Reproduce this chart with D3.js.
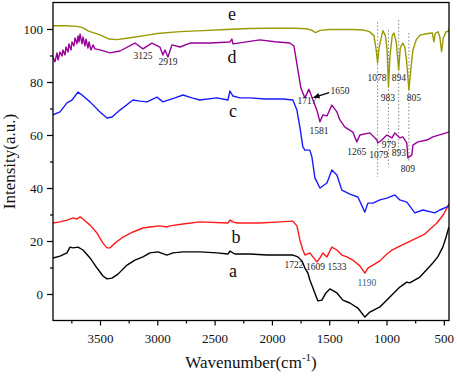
<!DOCTYPE html>
<html>
<head>
<meta charset="utf-8">
<script src="https://cdn.jsdelivr.net/npm/d3@7"></script>
<style>
  body { margin: 0; background: #fff; }
  svg text { font-family: "Liberation Serif", "Times New Roman", "DejaVu Serif", serif !important; }
</style>
</head>
<body>
<svg id="chart" width="457" height="376"></svg>
<script>
// spectra: [wavenumber, intensity]
var curveA = [[3910,13.6],[3849,14.3],[3788,15.5],[3762,17.7],[3735,17.4],[3692,17.7],[3648,16.6],[3587,13.6],[3526,9.8],[3474,6.8],[3439,5.7],[3395,6.0],[3343,7.5],[3264,10.9],[3195,12.8],[3125,14.0],[3064,15.5],[2994,15.9],[2916,14.7],[2864,15.5],[2776,15.9],[2628,15.9],[2480,15.5],[2384,15.1],[2366,16.2],[2323,15.1],[2192,15.1],[2044,14.7],[1930,14.7],[1817,14.7],[1773,14.0],[1738,12.5],[1712,9.8],[1686,7.9],[1669,5.3],[1642,2.3],[1599,-2.6],[1564,-2.3],[1529,0.4],[1494,1.9],[1433,0.4],[1381,-2.3],[1320,-3.4],[1250,-5.3],[1189,-8.7],[1145,-6.8],[1058,-4.9],[971,-1.1],[884,2.6],[823,4.5],[797,4.2],[709,6.4],[596,11.7],[553,14.0],[509,17.7],[483,21.1],[456,25.3]];

var curveB = [[3910,26.8],[3849,27.2],[3788,27.9],[3735,28.7],[3701,28.3],[3674,29.1],[3648,28.3],[3587,26.0],[3526,23.0],[3474,19.2],[3439,17.4],[3413,17.4],[3369,19.2],[3299,21.5],[3212,23.4],[3125,24.9],[3064,25.3],[2977,25.7],[2916,25.3],[2890,25.7],[2776,26.4],[2628,27.2],[2384,26.8],[2366,27.9],[2340,27.2],[2305,26.8],[2105,26.8],[1930,27.2],[1817,27.5],[1782,25.7],[1756,20.4],[1730,16.6],[1712,14.7],[1669,15.5],[1642,14.0],[1608,12.1],[1581,13.6],[1555,15.5],[1520,14.0],[1477,17.7],[1433,16.6],[1390,14.7],[1346,14.0],[1294,12.8],[1233,10.6],[1189,7.9],[1163,9.8],[1119,10.9],[1058,12.5],[997,15.1],[953,16.6],[884,18.1],[770,20.4],[666,22.6],[561,26.8],[500,30.2],[456,34.0]];

var curveC = [[3910,67.6],[3849,68.7],[3788,72.1],[3744,73.2],[3692,76.2],[3657,75.1],[3587,72.5],[3500,68.7],[3439,66.4],[3395,66.8],[3326,69.4],[3212,73.2],[3151,72.8],[3090,72.5],[3003,74.3],[2951,72.5],[2846,74.0],[2776,75.1],[2698,74.0],[2628,73.2],[2480,74.0],[2384,73.2],[2366,76.6],[2340,74.7],[2279,74.0],[2192,74.0],[2061,73.6],[1904,73.6],[1817,73.2],[1782,69.4],[1756,63.0],[1730,55.5],[1712,54.3],[1669,54.3],[1651,51.7],[1625,43.8],[1581,40.0],[1520,41.9],[1477,46.8],[1433,44.9],[1390,39.2],[1320,37.7],[1250,36.6],[1189,30.9],[1163,34.3],[1119,34.3],[1058,35.5],[997,36.2],[927,37.4],[884,35.5],[823,34.7],[753,30.6],[683,31.7],[579,30.6],[535,31.7],[456,33.2]];

var curveD = [[3910,89.4],[3893,87.6],[3875,91.0],[3866,88.3],[3849,91.3],[3831,89.8],[3823,92.1],[3805,90.2],[3797,93.2],[3779,91.3],[3771,94.4],[3753,92.1],[3744,95.1],[3727,93.6],[3718,96.6],[3701,94.4],[3692,97.4],[3683,95.1],[3674,98.1],[3657,94.4],[3648,97.0],[3631,93.6],[3622,96.2],[3605,92.8],[3596,95.1],[3579,92.1],[3561,94.0],[3544,92.5],[3500,92.1],[3413,91.0],[3326,91.7],[3195,94.7],[3125,92.5],[3047,94.7],[2977,93.2],[2951,90.2],[2933,92.1],[2907,89.4],[2872,94.0],[2802,93.2],[2715,94.7],[2541,94.7],[2366,95.1],[2349,96.2],[2340,94.4],[2105,95.9],[1974,95.2],[1843,94.7],[1808,93.6],[1773,84.5],[1747,77.7],[1712,74.0],[1677,77.3],[1642,73.2],[1608,69.4],[1581,65.0],[1555,67.6],[1520,67.2],[1477,71.3],[1433,68.7],[1407,65.7],[1363,63.0],[1294,61.1],[1259,57.4],[1233,60.0],[1145,60.8],[1084,58.1],[1076,57.0],[1041,58.1],[997,60.0],[953,58.9],[927,60.8],[884,58.9],[858,59.3],[823,57.0],[814,51.3],[779,52.5],[770,56.2],[727,57.4],[648,58.1],[596,59.3],[509,60.4],[456,61.1]];

var curveE = [[3910,101.2],[3800,101.2],[3700,101.0],[3650,100.5],[3600,99.2],[3500,97.8],[3420,96.2],[3350,96.0],[3250,96.6],[3100,97.6],[3000,98.3],[2800,99.0],[2600,99.4],[2400,99.8],[2200,100.2],[2000,100.3],[1800,100.3],[1700,100.1],[1650,99.5],[1620,98.6],[1580,99.5],[1500,99.8],[1300,99.8],[1200,99.6],[1150,99.0],[1110,97.5],[1090,92.0],[1078,87.2],[1065,93.0],[1032,99.4],[1010,97.5],[995,92.0],[983,78.1],[970,90.0],[950,97.5],[936,98.5],[915,95.0],[894,84.5],[880,93.0],[857,94.7],[840,93.0],[825,88.0],[805,77.0],[790,84.0],[770,92.0],[740,96.0],[709,97.7],[640,98.3],[600,98.5],[587,95.1],[575,98.3],[550,99.0],[535,97.0],[520,91.4],[505,96.5],[480,99.0],[465,99.0],[455,100.0]];

var seriesNames = ["a", "b", "c", "d", "e"];
var seriesColors = ["#000000", "#ff1a1a", "#1a1aff", "#990099", "#999900"];
var seriesData = [curveA, curveB, curveC, curveD, curveE];
// letter label positions [wavenumber, intensity]
var seriesLabelPos = [[2340, 6.4], [2314, 19.2], [2340, 66.8], [2349, 87.2], [2349, 103.4]];

var xMajorTicks = [3500, 3000, 2500, 2000, 1500, 1000, 500];
var xMinorTicks = [3750, 3250, 2750, 2250, 1750, 1250, 750];
var yMajorTicks = [0, 20, 40, 60, 80, 100];
var yMinorTicks = [10, 30, 50, 70, 90];

// peak labels: text, wavenumber, intensity (centre of text), colour
var peakLabels = [
  ["3125", 3125, 89.8, "#222"], ["2919", 2907, 87.6, "#222"],
  ["1717", 1695, 72.8, "#222"], ["1650", 1407, 76.6, "#222"],
  ["1581", 1590, 61.5, "#222"], ["1265", 1259, 53.6, "#222"],
  ["1079", 1067, 52.5, "#222"], ["979", 979, 56.2, "#222"],
  ["893", 893, 53.2, "#222"], ["809", 814, 47.2, "#222"],
  ["1078", 1084, 81.5, "#222"], ["983", 988, 73.9, "#222"],
  ["894", 892, 81.5, "#222"], ["805", 762, 73.9, "#222"],
  ["1722", 1808, 10.9, "#222"], ["1609", 1620, 10.2, "#222"],
  ["1533", 1433, 10.2, "#222"], ["1190", 1172, 4.2, "#2f5f8f"]
];
// dotted guide lines: wavenumber, top, bottom
var guideLines = [[1078, 102.6, 44.2], [983, 99.6, 47.9], [894, 103.4, 51.7], [805, 98.5, 49.8]];
// arrow for 1650: from, to
var arrowFrom = [1500, 76.0], arrowTo = [1632, 74.2];

var svg = d3.select("#chart");
var plotLeft = 53, plotRight = 449, plotTop = 2.5, plotBottom = 320.5;

var x = d3.scaleLinear().domain([3910, 455]).range([plotLeft, plotRight]);
var y = d3.scaleLinear().domain([-10, 110]).range([plotBottom, plotTop]);

var defs = svg.append("defs");
defs.append("clipPath").attr("id", "clip")
  .append("rect").attr("x", plotLeft).attr("y", plotTop)
  .attr("width", plotRight - plotLeft).attr("height", plotBottom - plotTop);

defs.append("marker")
  .attr("id", "arrowhead").attr("viewBox", "0 0 10 10")
  .attr("refX", 9).attr("refY", 5)
  .attr("markerWidth", 8).attr("markerHeight", 6)
  .attr("markerUnits", "userSpaceOnUse")
  .attr("orient", "auto")
  .append("path").attr("d", "M0,0L10,5L0,10z").attr("fill", "#000");

// guide lines
svg.append("g").selectAll("line").data(guideLines).enter().append("line")
  .attr("x1", function(d) { return x(d[0]); })
  .attr("x2", function(d) { return x(d[0]); })
  .attr("y1", function(d) { return y(d[1]); })
  .attr("y2", function(d) { return y(d[2]); })
  .attr("stroke", "#888").attr("stroke-width", 1)
  .attr("stroke-dasharray", "1.5,2");

var line = d3.line()
  .x(function(d) { return x(d[0]); })
  .y(function(d) { return y(d[1]); });

svg.append("g").attr("clip-path", "url(#clip)")
  .selectAll("path").data(seriesData).enter().append("path")
  .attr("d", line)
  .attr("fill", "none")
  .attr("stroke", function(d, i) { return seriesColors[i]; })
  .attr("stroke-width", 1.4)
  .attr("stroke-linejoin", "round");

// frame
svg.append("rect")
  .attr("x", plotLeft).attr("y", plotTop)
  .attr("width", plotRight - plotLeft).attr("height", plotBottom - plotTop)
  .attr("fill", "none").attr("stroke", "#000").attr("stroke-width", 1.3);

// axes
var xAxis = svg.append("g").attr("transform", "translate(0," + plotBottom + ")")
  .call(d3.axisBottom(x).tickValues(xMajorTicks).tickSize(5).tickPadding(8).tickFormat(d3.format("d")));
var xMinor = svg.append("g").attr("transform", "translate(0," + plotBottom + ")")
  .call(d3.axisBottom(x).tickValues(xMinorTicks).tickSize(3).tickFormat(""));
var yAxis = svg.append("g").attr("transform", "translate(" + plotLeft + ",0)")
  .call(d3.axisLeft(y).tickValues(yMajorTicks).tickSize(6).tickPadding(4));
var yMinor = svg.append("g").attr("transform", "translate(" + plotLeft + ",0)")
  .call(d3.axisLeft(y).tickValues(yMinorTicks).tickSize(3).tickFormat(""));

[xAxis, xMinor, yAxis, yMinor].forEach(function(g) {
  g.attr("font-family", null);
  g.select(".domain").remove();
  g.selectAll(".tick line").attr("stroke", "#000").attr("stroke-width", 1.2);
  g.selectAll("text").attr("font-size", 13).attr("fill", "#111");
});

// axis titles
var xt = svg.append("text")
  .attr("x", (plotLeft + plotRight) / 2).attr("y", 368)
  .attr("text-anchor", "middle").attr("font-size", 17).attr("fill", "#111");
xt.append("tspan").text("Wavenumber(cm");
xt.append("tspan").attr("font-size", 11).attr("dy", -7).text("-1");
xt.append("tspan").attr("dy", 7).text(")");

svg.append("text")
  .attr("transform", "translate(15," + ((plotTop + plotBottom) / 2) + ") rotate(-90)")
  .attr("text-anchor", "middle").attr("font-size", 17).attr("fill", "#111")
  .text("Intensity(a.u.)");

// series letters
svg.append("g").selectAll("text").data(seriesNames).enter().append("text")
  .attr("x", function(d, i) { return x(seriesLabelPos[i][0]); })
  .attr("y", function(d, i) { return y(seriesLabelPos[i][1]); })
  .attr("text-anchor", "middle").attr("font-size", 18).attr("fill", "#111")
  .text(function(d) { return d; });

// peak labels
svg.append("g").selectAll("text").data(peakLabels).enter().append("text")
  .attr("x", function(d) { return x(d[1]); })
  .attr("y", function(d) { return y(d[2]); })
  .attr("dy", "0.35em")
  .attr("text-anchor", "middle").attr("font-size", 9.5)
  .attr("fill", function(d) { return d[3]; })
  .text(function(d) { return d[0]; });

svg.append("line")
  .attr("x1", x(arrowFrom[0])).attr("y1", y(arrowFrom[1]))
  .attr("x2", x(arrowTo[0])).attr("y2", y(arrowTo[1]))
  .attr("stroke", "#000").attr("stroke-width", 1.3)
  .attr("marker-end", "url(#arrowhead)");
</script>
</body>
</html>
